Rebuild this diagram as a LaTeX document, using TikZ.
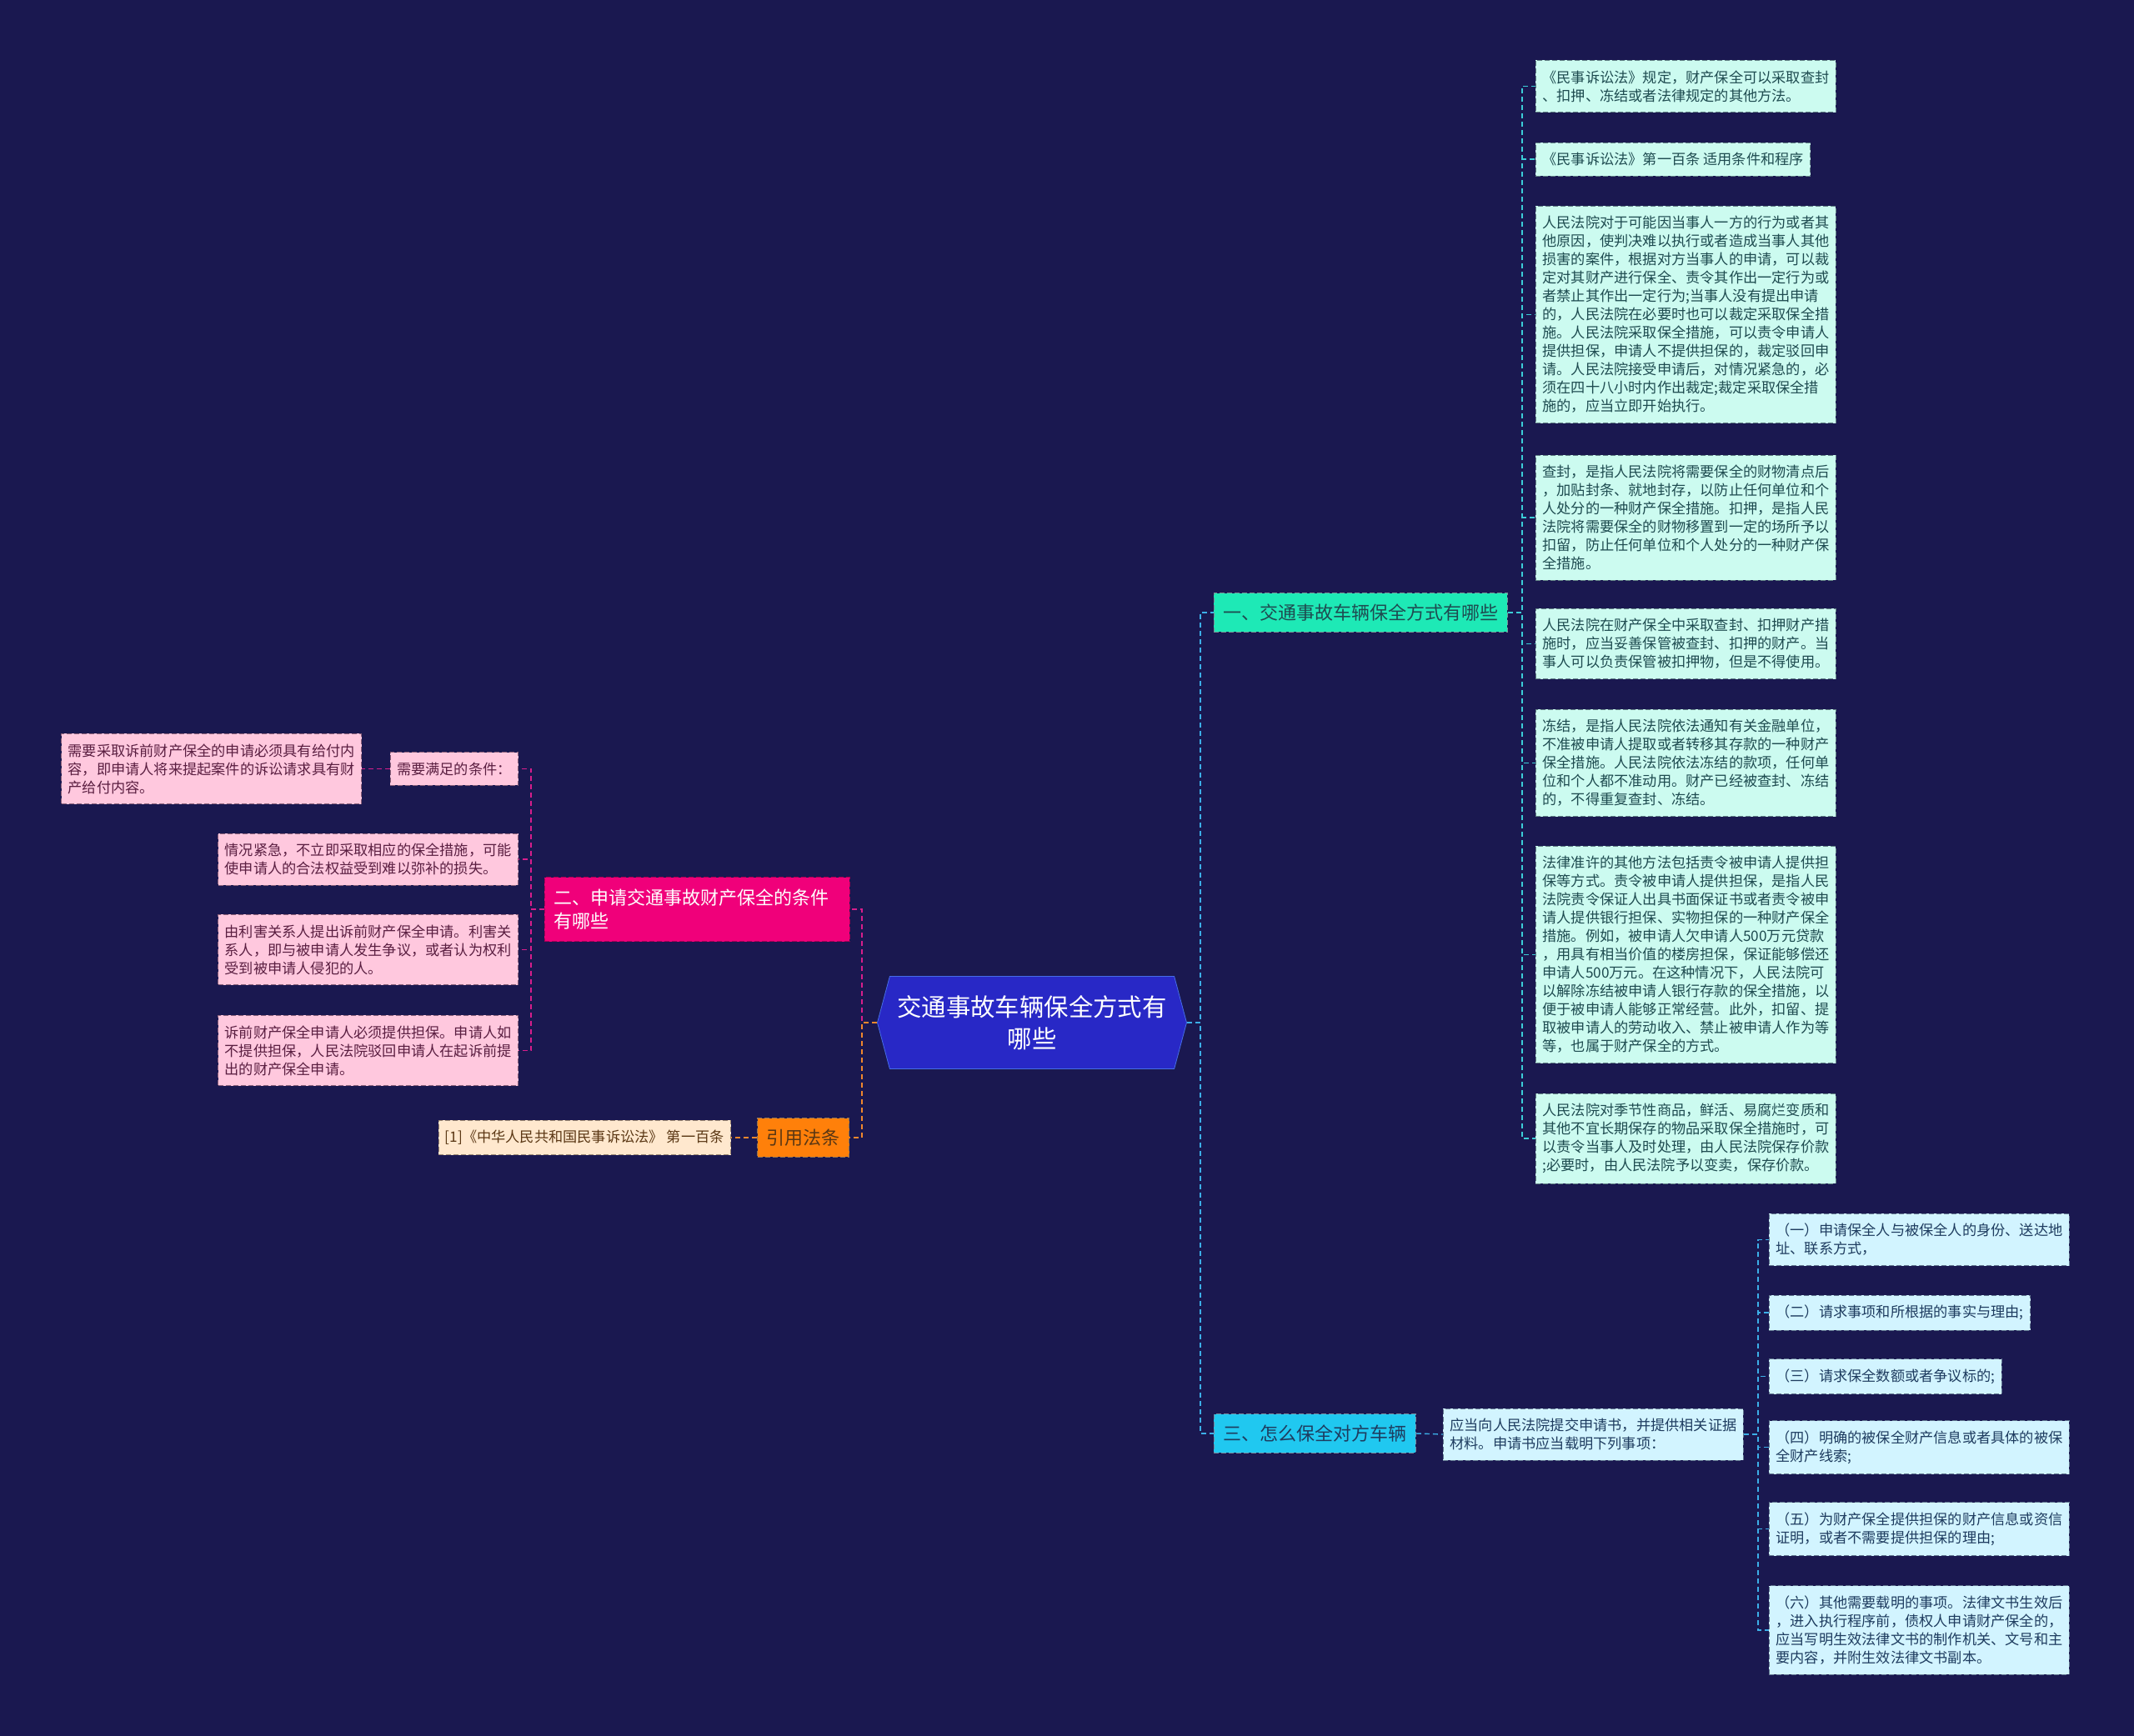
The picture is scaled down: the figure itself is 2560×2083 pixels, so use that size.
\documentclass[tikz,border=0pt]{standalone}
\usepackage{fontspec}
\usepackage{tikz}
\usetikzlibrary{shapes.symbols}
\usepackage{xcolor}
\newfontfamily\cjk{Noto Sans CJK SC}
\definecolor{bgNavy}{RGB}{26,24,80}
\definecolor{rootBlue}{RGB}{40,40,198}
\definecolor{rootEdge}{RGB}{70,110,230}
\definecolor{topicAqua}{RGB}{30,233,182}
\definecolor{topicSky}{RGB}{32,200,240}
\definecolor{topicPink}{RGB}{240,0,122}
\definecolor{topicOrange}{RGB}{255,128,10}
\definecolor{leafAqua}{RGB}{204,251,240}
\definecolor{leafSky}{RGB}{210,244,255}
\definecolor{leafPink}{RGB}{255,200,222}
\definecolor{leafPeach}{RGB}{255,232,206}
\definecolor{txtTeal}{RGB}{30,75,80}
\definecolor{txtBlue}{RGB}{30,60,95}
\definecolor{txtPlum}{RGB}{90,30,65}
\definecolor{txtBrown}{RGB}{90,55,20}
\definecolor{lineAqua}{RGB}{60,205,215}
\definecolor{lineSky}{RGB}{60,175,232}
\definecolor{linePink}{RGB}{215,30,140}
\definecolor{lineOrange}{RGB}{240,135,45}
\tikzset{
    every node/.append style={align=left},
    root/.style={signal,signal to=east and west,signal pointer angle=150,fill=rootBlue,draw=rootEdge,
        text=white,align=center,font=\cjk\fontsize{14.7pt}{18.8pt}\selectfont,
        minimum width=185.5pt,minimum height=55.5pt,inner sep=2pt},
    topic/.style={rectangle,draw,dashed,dash pattern=on 3pt off 1.5pt,inner xsep=5.5pt,inner ysep=6.5pt,
        font=\cjk\fontsize{11pt}{14pt}\selectfont},
    leaf/.style={rectangle,draw,dashed,dash pattern=on 3pt off 1.5pt,inner xsep=4pt,inner ysep=6pt,
        font=\cjk\fontsize{8.6pt}{11pt}\selectfont},
    aqualeaf/.style={leaf,fill=leafAqua,draw=txtTeal!70,text=txtTeal},
    skyleaf/.style={leaf,fill=leafSky,draw=txtBlue!70,text=txtBlue},
    pinkleaf/.style={leaf,fill=leafPink,draw=txtPlum!70,text=txtPlum},
    link/.style={dashed,dash pattern=on 3pt off 2pt,line width=0.7pt}
}
\begin{document}
\begin{tikzpicture}[x=0.5pt,y=-0.5pt]
    \fill[bgNavy] (0,0) rectangle (2560,2083);

    \node[root] (root) at (1238,1227) {交通事故车辆保全方式有\\哪些};

    % right side
    \node[topic,fill=topicAqua,draw=txtTeal!60,text=txtTeal,anchor=west] (b1) at (1456,735) {一、交通事故车辆保全方式有哪些};
    \node[topic,fill=topicSky,draw=txtBlue!60,text=txtBlue,anchor=west] (b3) at (1456,1720) {三、怎么保全对方车辆};

    \node[aqualeaf,anchor=west] (r1) at (1842,103.5) {《民事诉讼法》规定，财产保全可以采取查封\\、扣押、冻结或者法律规定的其他方法。};
    \node[aqualeaf,anchor=west] (r2) at (1842,191) {《民事诉讼法》第一百条 适用条件和程序};
    \node[aqualeaf,anchor=west] (r3) at (1842,377.5) {人民法院对于可能因当事人一方的行为或者其\\他原因，使判决难以执行或者造成当事人其他\\损害的案件，根据对方当事人的申请，可以裁\\定对其财产进行保全、责令其作出一定行为或\\者禁止其作出一定行为;当事人没有提出申请\\的，人民法院在必要时也可以裁定采取保全措\\施。人民法院采取保全措施，可以责令申请人\\提供担保，申请人不提供担保的，裁定驳回申\\请。人民法院接受申请后，对情况紧急的，必\\须在四十八小时内作出裁定;裁定采取保全措\\施的，应当立即开始执行。};
    \node[aqualeaf,anchor=west] (r4) at (1842,621) {查封，是指人民法院将需要保全的财物清点后\\，加贴封条、就地封存，以防止任何单位和个\\人处分的一种财产保全措施。扣押，是指人民\\法院将需要保全的财物移置到一定的场所予以\\扣留，防止任何单位和个人处分的一种财产保\\全措施。};
    \node[aqualeaf,anchor=west] (r5) at (1842,772.5) {人民法院在财产保全中采取查封、扣押财产措\\施时，应当妥善保管被查封、扣押的财产。当\\事人可以负责保管被扣押物，但是不得使用。};
    \node[aqualeaf,anchor=west] (r6) at (1842,915.5) {冻结，是指人民法院依法通知有关金融单位，\\不准被申请人提取或者转移其存款的一种财产\\保全措施。人民法院依法冻结的款项，任何单\\位和个人都不准动用。财产已经被查封、冻结\\的，不得重复查封、冻结。};
    \node[aqualeaf,anchor=west] (r7) at (1842,1145.5) {法律准许的其他方法包括责令被申请人提供担\\保等方式。责令被申请人提供担保，是指人民\\法院责令保证人出具书面保证书或者责令被申\\请人提供银行担保、实物担保的一种财产保全\\措施。例如，被申请人欠申请人500万元贷款\\，用具有相当价值的楼房担保，保证能够偿还\\申请人500万元。在这种情况下，人民法院可\\以解除冻结被申请人银行存款的保全措施，以\\便于被申请人能够正常经营。此外，扣留、提\\取被申请人的劳动收入、禁止被申请人作为等\\等，也属于财产保全的方式。};
    \node[aqualeaf,anchor=west] (r8) at (1842,1366) {人民法院对季节性商品，鲜活、易腐烂变质和\\其他不宜长期保存的物品采取保全措施时，可\\以责令当事人及时处理，由人民法院保存价款\\;必要时，由人民法院予以变卖，保存价款。};

    \node[skyleaf,anchor=west] (b3c) at (1731,1721) {应当向人民法院提交申请书，并提供相关证据\\材料。申请书应当载明下列事项：};
    \node[skyleaf,anchor=west] (s1) at (2122,1487.5) {（一）申请保全人与被保全人的身份、送达地\\址、联系方式，};
    \node[skyleaf,anchor=west] (s2) at (2122,1575) {（二）请求事项和所根据的事实与理由;};
    \node[skyleaf,anchor=west] (s3) at (2122,1651.5) {（三）请求保全数额或者争议标的;};
    \node[skyleaf,anchor=west] (s4) at (2122,1736.5) {（四）明确的被保全财产信息或者具体的被保\\全财产线索;};
    \node[skyleaf,anchor=west] (s5) at (2122,1834.5) {（五）为财产保全提供担保的财产信息或资信\\证明，或者不需要提供担保的理由;};
    \node[skyleaf,anchor=west] (s6) at (2122,1956) {（六）其他需要载明的事项。法律文书生效后\\，进入执行程序前，债权人申请财产保全的，\\应当写明生效法律文书的制作机关、文号和主\\要内容，并附生效法律文书副本。};

    % left side
    \node[topic,fill=topicPink,draw=topicPink!70!black,text=white,anchor=west,text width=172pt,minimum height=38.5pt] (b2) at (653,1091) {二、申请交通事故财产保全的条件\\有哪些};
    \node[topic,fill=topicOrange,draw=txtBrown!70,text=txtBrown,anchor=east] (b4) at (1019,1365) {引用法条};

    \node[pinkleaf,anchor=east] (p1) at (622,922.5) {需要满足的条件：};
    \node[pinkleaf,anchor=east] (p0) at (434,922.5) {需要采取诉前财产保全的申请必须具有给付内\\容，即申请人将来提起案件的诉讼请求具有财\\产给付内容。};
    \node[pinkleaf,anchor=east] (p2) at (622,1031) {情况紧急，不立即采取相应的保全措施，可能\\使申请人的合法权益受到难以弥补的损失。};
    \node[pinkleaf,anchor=east] (p3) at (622,1139.5) {由利害关系人提出诉前财产保全申请。利害关\\系人，即与被申请人发生争议，或者认为权利\\受到被申请人侵犯的人。};
    \node[pinkleaf,anchor=east] (p4) at (622,1260.5) {诉前财产保全申请人必须提供担保。申请人如\\不提供担保，人民法院驳回申请人在起诉前提\\出的财产保全申请。};
    \node[leaf,fill=leafPeach,draw=txtBrown!60,text=txtBrown,anchor=east] (b4c) at (877,1365) {[1]《中华人民共和国民事诉讼法》 第一百条};

    % connectors
    \draw[link,lineSky] (root.east) -- ++(16,0) |- (b1.west);
    \draw[link,lineSky] (root.east) -- ++(16,0) |- (b3.west);
    \foreach \n in {r1,r2,r3,r4,r5,r6,r7,r8} { \draw[link,lineAqua] (b1.east) -- ++(17,0) |- (\n.west); }
    \draw[link,lineSky] (b3.east) -- (b3c.west);
    \foreach \n in {s1,s2,s3,s4,s5,s6} { \draw[link,lineSky] (b3c.east) -- ++(17,0) |- (\n.west); }

    \draw[link,linePink] (root.west) -- ++(-18,0) |- (b2.east);
    \draw[link,lineOrange] (root.west) -- ++(-18,0) |- (b4.east);
    \foreach \n in {p1,p2,p3,p4} { \draw[link,linePink] (b2.west) -- ++(-16,0) |- (\n.east); }
    \draw[link,linePink] (p1.west) -- (p0.east);
    \draw[link,lineOrange] (b4.west) -- (b4c.east);
\end{tikzpicture}
\end{document}
